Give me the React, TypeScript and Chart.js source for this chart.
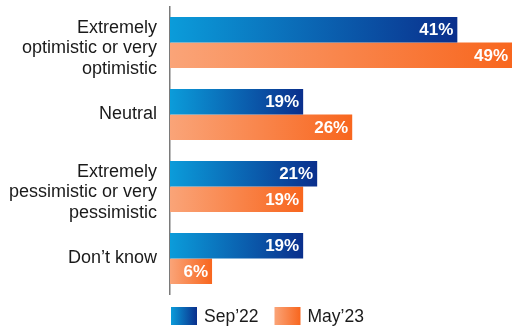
import React, { useEffect, useRef } from "react";
import { Chart, registerables } from "chart.js";

Chart.register(...registerables);

// Survey answers, one row per category (multi-line labels as arrays)
const categories: (string | string[])[] = [
  ["Extremely", "optimistic or very", "optimistic"],
  "Neutral",
  ["Extremely", "pessimistic or very", "pessimistic"],
  "Don’t know",
];
const seriesNames = ["Sep’22", "May’23"];
const sep22 = [41, 19, 21, 19];
const may23 = [49, 26, 19, 6];

const blueStops = ["#0b9cda", "#0a2f8c"];
const orangeStops = ["#faa478", "#f8661e"];
const FONT = "'Liberation Sans', Arial, Helvetica, sans-serif";

// Each bar fades from light at the axis to saturated at its end
function barGradient(stops: string[]) {
  return (ctx: any) => {
    const chart = ctx.chart;
    if (!chart.chartArea || ctx.type !== "data") return stops[1];
    const xs = chart.scales.x;
    const x0 = xs.getPixelForValue(0);
    const x1 = xs.getPixelForValue(ctx.raw);
    const g = chart.ctx.createLinearGradient(x0, 0, Math.max(x1, x0 + 1), 0);
    g.addColorStop(0, stops[0]);
    g.addColorStop(1, stops[1]);
    return g;
  };
}

// Category names, right-aligned against the axis; wrapped names sit a little low
const categoryLabels = {
  id: "categoryLabels",
  afterDraw(chart: any) {
    const { ctx, chartArea } = chart;
    const scale = chart.scales.y;
    const lh = 20.3;
    ctx.save();
    ctx.font = `18px ${FONT}`;
    ctx.fillStyle = "#1a1a1a";
    ctx.textAlign = "right";
    ctx.textBaseline = "middle";
    categories.forEach((label, i) => {
      const lines = Array.isArray(label) ? label : [label];
      const yc = scale.getPixelForTick(i) + (lines.length > 1 ? 6 : 0);
      const y0 = yc - ((lines.length - 1) * lh) / 2;
      lines.forEach((line, k) => ctx.fillText(line, chartArea.left - 13, y0 + k * lh));
    });
    ctx.restore();
  },
};

const valueLabels = {
  id: "valueLabels",
  afterDatasetsDraw(chart: any) {
    const { ctx, chartArea } = chart;
    ctx.save();
    ctx.font = `bold 17px ${FONT}`;
    ctx.fillStyle = "#ffffff";
    ctx.textAlign = "right";
    ctx.textBaseline = "middle";
    chart.data.datasets.forEach((ds: any, i: number) => {
      const meta = chart.getDatasetMeta(i);
      meta.data.forEach((bar: any, j: number) => {
        const x = Math.min(bar.x, chartArea.right) - 4;
        ctx.fillText(`${ds.data[j]}%`, x, bar.y + 1);
      });
    });
    ctx.restore();
  },
};

const gradientLegend = {
  id: "gradientLegend",
  afterDraw(chart: any) {
    const { ctx, chartArea } = chart;
    const boxW = 26;
    const boxH = 18;
    const cy = chartArea.bottom + 21.5;
    let x = chartArea.left + 1;
    ctx.save();
    ctx.font = `17.5px ${FONT}`;
    ctx.textBaseline = "middle";
    ctx.textAlign = "left";
    [blueStops, orangeStops].forEach((stops, i) => {
      const g = ctx.createLinearGradient(x, 0, x + boxW, 0);
      g.addColorStop(0, stops[0]);
      g.addColorStop(1, stops[1]);
      ctx.fillStyle = g;
      ctx.fillRect(x, cy - boxH / 2, boxW, boxH);
      ctx.fillStyle = "#1a1a1a";
      const tx = x + boxW + 7;
      ctx.fillText(seriesNames[i], tx, cy + 1);
      x = tx + ctx.measureText(seriesNames[i]).width + 16;
    });
    ctx.restore();
  },
};

export default function App() {
  const canvasRef = useRef<HTMLCanvasElement>(null);

  useEffect(() => {
    if (!canvasRef.current) return;
    const chart = new Chart(canvasRef.current, {
      type: "bar",
      data: {
        labels: categories,
        datasets: [
          { label: seriesNames[0], data: sep22, backgroundColor: barGradient(blueStops) },
          { label: seriesNames[1], data: may23, backgroundColor: barGradient(orangeStops) },
        ],
      },
      options: {
        indexAxis: "y",
        animation: false,
        responsive: true,
        maintainAspectRatio: false,
        categoryPercentage: 0.71,
        barPercentage: 1,
        layout: { padding: { top: 6.5, bottom: 32.5, left: 0, right: 0 } },
        plugins: { legend: { display: false }, tooltip: { enabled: false } },
        scales: {
          x: { display: false, min: 0, max: 48.8 },
          y: {
            grid: { display: false, drawTicks: false },
            border: { display: true, color: "#7a7a7a", width: 1.5 },
            ticks: { display: false },
            afterFit: (scale: any) => {
              scale.width = 170;
              scale.paddingTop = 0;
              scale.paddingBottom = 0;
            },
          },
        },
      } as any,
      plugins: [valueLabels, categoryLabels, gradientLegend],
    });
    return () => chart.destroy();
  }, []);

  return (
    <div style={{ position: "fixed", left: 0, top: 0, width: 512, height: 327, background: "#fff" }}>
      <canvas ref={canvasRef} />
    </div>
  );
}
